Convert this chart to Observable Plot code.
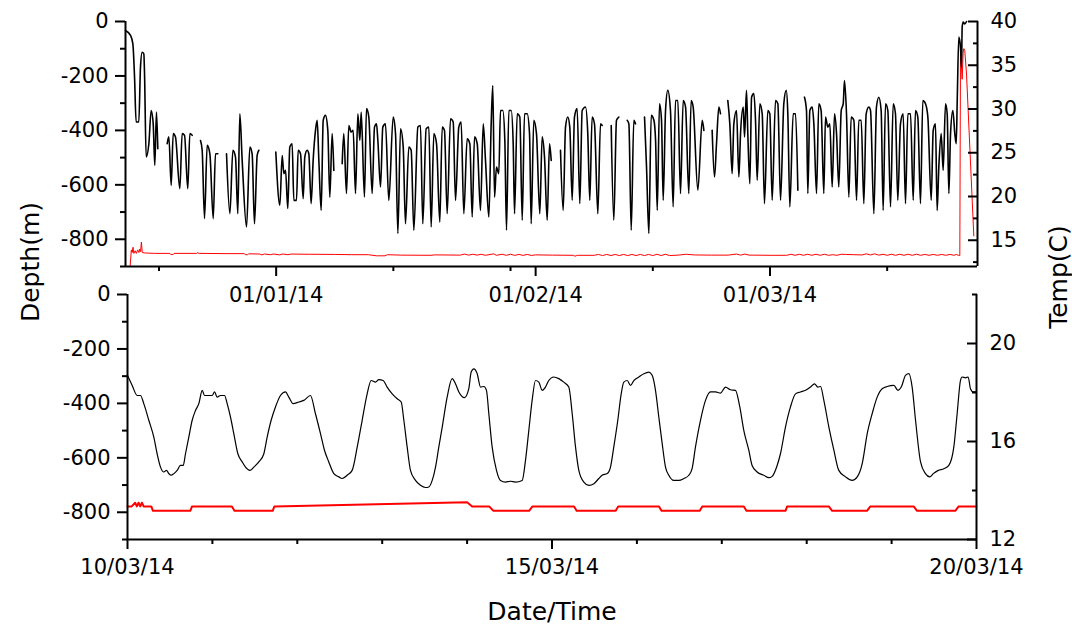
<!DOCTYPE html>
<html><head><meta charset="utf-8">
<script src="https://cdn.jsdelivr.net/npm/d3@7"></script>
<script src="https://cdn.jsdelivr.net/npm/@observablehq/plot@0.6"></script>
<style>
body{margin:0;background:#fff;}
#wrap{position:relative;width:1072px;height:624px;overflow:hidden;font-family:"DejaVu Sans",sans-serif;background:#fff;color:#000;}
#top,#bot{position:absolute;left:0;}
#top{top:0;} #bot{top:280px;}
.lab{position:absolute;font-size:25px;white-space:nowrap;line-height:1;}
.rot{transform:translate(-50%,-50%) rotate(-90deg);}
</style></head><body>
<div id="wrap">
  <div id="bot"></div>
  <div id="top"></div>
  <div class="lab rot" style="left:30px;top:262px;">Depth(m)</div>
  <div class="lab rot" style="left:1058px;top:277px;">Temp(C)</div>
  <div class="lab" style="left:552px;top:611px;transform:translate(-50%,-50%);">Date/Time</div>
</div>
<script>
// ---------- tick values / labels ----------
const depthMajor = [0, -200, -400, -600, -800];
const depthMinor = [-100, -300, -500, -700, -900];
const tempTopMajor = [15, 20, 25, 30, 35, 40];
const tempTopMinor = [12.5, 17.5, 22.5, 27.5, 32.5, 37.5];
const tempBotMajor = [12, 16, 20];
const tempBotMinor = [14, 18, 22];
const topMajorDates = ["2014-01-01", "2014-02-01", "2014-03-01"];
const topMajorLabels = ["01/01/14", "01/02/14", "01/03/14"];
const topMinorDates = ["2013-12-18", "2014-01-15", "2014-01-29", "2014-02-15", "2014-03-15"];
const botMajorDates = ["2014-03-10", "2014-03-15", "2014-03-20"];
const botMajorLabels = ["10/03/14", "15/03/14", "20/03/14"];
const botMinorDates = ["2014-03-11","2014-03-12","2014-03-13","2014-03-14","2014-03-16","2014-03-17","2014-03-18","2014-03-19"];

// ---------- top panel: days since 14/12/2013, depth (m); NaN = gap ----------
const topDepthT = [
0,0.6,0.88,1.08,1.27,1.59,1.79,1.99,2.19,2.27,2.47,2.79,3.07,3.31,3.5,3.7,3.86, 4.4,
4.98,5.18,5.46,5.7,5.97,6.49,6.77,7.05,7.44,7.69,7.97, 8.5,
8.96,9.16,9.44,9.76,10.08,10.48,10.75,11.03, 11.5,
12.07,12.47,12.83,13.14,13.42,13.66,13.94,14.46,14.86,15.13,15.41,15.73,15.93, 17,
17.96,18.44,18.72,18.92,19.12,19.39,19.63,19.91,20.11,20.43,20.63,20.91,21.23,21.42,21.7,21.9,22.18,22.42,22.7,22.9,23.1,23.38,23.62,23.89,24.17,24.41,24.69,24.89, 25.4,
25.89,26.08,26.4,26.68,26.96,27.2,27.48,27.76,28.0,28.16,28.55,28.79,29.07,29.47,29.75,29.99,30.15,30.47,30.74,31.06,31.46,31.98,32.26,32.54,32.86,33.18,33.45,33.85,34.13,34.45,34.93,35.24,35.52,35.92,36.24,36.52,36.84,37.16,37.55,37.84,38.11,38.43,38.83,39.15,39.43,39.82,40.1,40.42,40.82,41.14,41.42,41.7,42.02,42.41,42.74,43.01,43.41,43.69,43.88,44.09,44.32,44.6,44.8,45.08,45.32,45.52,45.8,46.08,46.32,46.48,46.8,47.11,47.4,47.67,47.99,48.27,48.47,48.78,49.1,49.5,49.78,50.06,50.38,50.66,50.86, 51.4,
51.97,52.29,52.57,52.84,53.08,53.37,53.64,53.96,54.28,54.56,54.96,55.23,55.47,55.75,56.03,56.43,56.75,56.95, 57.5,
58.03,58.34,58.66,58.94, 59.4,
59.94,60.14,60.42,60.73,60.93, 61.5,
62.01,62.25,62.53,62.81,63.13,63.33,63.53,63.8,64.04,64.24,64.52,64.79,65.11,65.43,65.71,65.99,66.31,66.63,66.91,67.3,67.58,67.82,68.38,68.9,69.1, 69.6,
70.09,70.37,70.61,70.89,71.09, 71.5,
71.96,72.2,72.48,72.68,73.0,73.28,73.48,73.8,73.96,74.19,74.35,74.59,74.8,75.07,75.27,75.47,75.79,76.07,76.34,76.74,76.98,77.26,77.66,77.94,78.26,78.65,78.94,79.13,79.37,79.77,80.05,80.33, 80.7,
81.12,81.36,81.52,81.76,82.04,82.24,82.56,82.83,83.11,83.43,83.63,83.91,84.15,84.43,84.71,84.95,85.22,85.51,85.75,85.9,86.14,86.42,86.7,87.02,87.34,87.61,87.9,88.21,88.49,88.81,89.01,89.41,89.72,90.0,90.28,90.52,90.8,91.08,91.4,91.72,91.99,92.27,92.59,92.91,93.19,93.47,93.79,94.11,94.38,94.66,94.98,95.26,95.58,95.86,96.26,96.5,96.77,96.97,97.17,97.45,97.69,97.97,98.17,98.37,98.57,98.85,99.08,99.25,99.37,99.56,99.76,99.88,99.96,100.08,100.27,100.48
];
const topDepthV = [
-33,-51,-82,-204,-369,-369,-168,-113,-119,-186,-498,-449,-327,-376,-528,-333,-467, NaN,
-449,-424,-602,-412,-424,-614,-412,-418,-614,-412,-418, NaN,
-437,-473,-724,-455,-486,-724,-486,-486, NaN,
-486,-706,-473,-498,-706,-339,-510,-755,-461,-486,-743,-492,-473, NaN,
-480,-675,-492,-559,-547,-687,-461,-449,-657,-657,-473,-486,-651,-498,-473,-486,-669,-510,-400,-363,-510,-694,-363,-345,-400,-645,-412,-547, NaN,
-522,-412,-632,-382,-406,-400,-632,-339,-437,-333,-645,-320,-351,-632,-388,-376,-437,-608,-388,-376,-657,-351,-412,-779,-394,-461,-743,-461,-473,-767,-388,-382,-743,-394,-388,-755,-412,-449,-737,-388,-400,-706,-357,-369,-657,-388,-369,-706,-431,-449,-718,-424,-449,-694,-376,-510,-718,-376,-235,-645,-535,-559,-327,-327,-437,-767,-327,-327,-449,-706,-339,-351,-730,-339,-339,-412,-743,-363,-412,-706,-424,-498,-730,-449,-510, NaN,
-473,-694,-388,-351,-388,-657,-351,-320,-669,-327,-314,-412,-657,-351,-376,-706,-376,-382, NaN,
-382,-730,-363,-351, NaN,
-363,-376,-767,-363,-376, NaN,
-351,-535,-779,-345,-363,-437,-694,-302,-363,-657,-327,-253,-327,-681,-290,-290,-632,-290,-314,-632,-290,-314,-620,-363,-400, NaN,
-400,-571,-449,-314,-339, NaN,
-290,-376,-559,-376,-327,-571,-412,-314,-424,-253,-412,-596,-278,-265,-363,-583,-302,-339,-669,-327,-339,-657,-290,-302,-657,-302,-253,-339,-681,-339,-339,-620, NaN,
-278,-327,-632,-327,-314,-376,-632,-302,-327,-632,-351,-388,-376,-608,-339,-412,-608,-327,-302,-217,-339,-645,-351,-363,-657,-363,-363,-669,-339,-314,-327,-706,-314,-278,-327,-694,-302,-327,-681,-302,-339,-657,-376,-339,-669,-339,-339,-657,-327,-351,-669,-290,-302,-351,-657,-400,-376,-694,-535,-412,-547,-302,-339,-632,-412,-327,-412,-449,-290,-57,-94,-168,-21,-2,-9,0
];
const topTempT = [0,0.55,0.7,0.8,0.9,1.0,1.15,1.3,1.45,1.6,1.7,1.8,1.9,2.0,2.3,3.5,5.3,5.4,5.7,5.8,8.5,8.6,8.8,12,14.2,14.3,14.6,14.7,16,16.3,16.6,17.3,17.7,18.4,18.8,19.4,19.8,22,25,27,29,30,31,31.3,33,36.5,37,40,40.5,41,41.5,42,42.5,43,44,44.3,45,45.5,46,46.5,47,47.5,48,48.5,49,51,53.5,53.7,54,56,56.5,57,57.5,58,58.5,59,59.5,60,60.5,61,61.5,62,62.5,63,63.5,64,64.5,65,66,67,68,70,72,73,73.5,74,74.5,75,77,79,79.5,80,80.5,81,81.5,82,82.5,83,83.5,84,84.5,85,85.5,86,87,88,88.5,89,89.5,90,90.5,91,91.5,92,92.5,93,93.5,94,94.5,95,95.5,96,96.5,97,97.5,98,98.5,99,99.25,99.49,99.68,99.76,99.96,100.08,100.16,100.27,100.48,101.35];
const topTempV = [12,12,13.9,13.6,14.2,13.5,13.8,13.5,13.9,13.6,14.0,13.7,14.8,13.6,13.55,13.5,13.5,13.38,13.38,13.5,13.5,13.58,13.5,13.47,13.47,13.35,13.35,13.45,13.43,13.33,13.43,13.35,13.43,13.33,13.43,13.35,13.42,13.4,13.38,13.35,13.35,13.22,13.22,13.35,13.3,13.28,13.33,13.3,13.42,13.3,13.4,13.3,13.4,13.28,13.45,13.28,13.4,13.28,13.4,13.27,13.38,13.27,13.38,13.26,13.33,13.3,13.28,13.18,13.28,13.28,13.38,13.25,13.38,13.25,13.38,13.25,13.38,13.25,13.38,13.25,13.38,13.25,13.38,13.25,13.4,13.25,13.4,13.25,13.3,13.4,13.32,13.3,13.3,13.42,13.3,13.42,13.3,13.3,13.28,13.28,13.4,13.28,13.4,13.28,13.4,13.28,13.4,13.28,13.4,13.28,13.35,13.28,13.4,13.38,13.35,13.32,13.45,13.32,13.45,13.3,13.4,13.28,13.4,13.28,13.4,13.28,13.4,13.28,13.4,13.28,13.38,13.28,13.38,13.28,13.38,13.28,13.38,13.28,13.38,13.28,13.26,36.7,33.4,36.5,36.9,36.7,34.0,15.5,15.7,15.2];

// ---------- bottom panel: days since 10/03/2014 ----------
const botDepthT = [0,0.055,0.114,0.153,0.192,0.251,0.31,0.349,0.389,0.428,0.459,0.487,0.514,0.546,0.585,0.624,0.656,0.683,0.722,0.762,0.801,0.84,0.88,0.907,0.958,0.997,1.025,1.056,1.095,1.143,1.174,1.213,1.252,1.3,1.351,1.39,1.441,1.488,1.547,1.606,1.645,1.692,1.743,1.802,1.861,1.9,1.952,2.018,2.077,2.155,2.214,2.273,2.32,2.371,2.43,2.489,2.528,2.587,2.646,2.706,2.764,2.823,2.87,2.921,2.96,3.011,3.058,3.118,3.177,3.224,3.255,3.294,3.333,3.392,3.451,3.51,3.549,3.589,3.628,3.667,3.707,3.765,3.824,3.863,3.903,3.969,4.02,4.048,4.079,4.119,4.158,4.197,4.228,4.256,4.295,4.346,4.393,4.452,4.511,4.57,4.649,4.688,4.727,4.766,4.806,4.845,4.884,4.923,4.962,5.021,5.08,5.139,5.198,5.238,5.277,5.316,5.375,5.434,5.493,5.552,5.591,5.65,5.689,5.728,5.775,5.815,5.846,5.886,5.925,5.964,6.023,6.082,6.141,6.18,6.219,6.258,6.298,6.337,6.376,6.435,6.494,6.553,6.612,6.65,6.69,6.749,6.808,6.867,6.926,6.985,7.044,7.102,7.161,7.212,7.259,7.318,7.357,7.416,7.495,7.554,7.593,7.652,7.691,7.75,7.809,7.868,7.927,7.986,8.045,8.092,8.131,8.163,8.202,8.261,8.32,8.378,8.457,8.536,8.595,8.654,8.713,8.771,8.83,8.889,8.948,9.027,9.074,9.114,9.164,9.203,9.242,9.282,9.341,9.399,9.45,9.491,9.55,9.615,9.674,9.733,9.772,9.811,9.831,9.87,9.902,9.929,9.961,10.0];
const botDepthV = [-297,-334,-371,-371,-401,-462,-524,-585,-634,-652,-646,-658,-664,-658,-646,-628,-628,-585,-524,-462,-426,-401,-352,-371,-371,-371,-358,-377,-371,-371,-401,-450,-511,-585,-615,-634,-646,-634,-615,-585,-524,-462,-413,-371,-358,-377,-401,-395,-389,-371,-438,-511,-572,-615,-658,-670,-676,-664,-646,-560,-462,-365,-316,-322,-313,-316,-340,-365,-383,-395,-462,-560,-646,-683,-701,-709,-707,-683,-634,-560,-487,-377,-309,-328,-358,-379,-346,-285,-273,-291,-340,-338,-352,-438,-560,-646,-683,-689,-686,-689,-683,-609,-499,-389,-316,-322,-352,-340,-316,-303,-309,-322,-340,-438,-560,-646,-689,-701,-695,-676,-664,-658,-634,-560,-462,-365,-322,-316,-334,-316,-303,-291,-285,-297,-352,-450,-548,-634,-664,-683,-683,-676,-664,-640,-560,-462,-389,-358,-358,-362,-340,-350,-352,-413,-499,-572,-628,-652,-664,-673,-668,-628,-585,-487,-413,-365,-358,-352,-340,-328,-340,-338,-389,-487,-572,-646,-670,-683,-670,-621,-511,-438,-377,-346,-338,-334,-352,-340,-297,-291,-340,-462,-615,-658,-670,-658,-646,-640,-628,-560,-438,-316,-303,-306,-303,-346,-358,-358];
const botTempT = [0,0.05,0.09,0.11,0.13,0.15,0.17,0.19,0.28,0.30,0.74,0.76,1.23,1.26,1.71,1.73,4.0,4.06,4.26,4.31,4.73,4.77,5.26,5.29,5.75,5.78,6.26,6.29,6.74,6.77,7.26,7.29,7.75,7.77,8.26,8.3,8.71,8.75,9.26,9.3,9.75,9.79,10.0];
const botTempV = [13.35,13.35,13.5,13.35,13.5,13.35,13.5,13.35,13.35,13.17,13.17,13.35,13.35,13.17,13.17,13.35,13.52,13.35,13.35,13.17,13.17,13.35,13.35,13.17,13.17,13.35,13.35,13.17,13.17,13.35,13.35,13.17,13.17,13.35,13.35,13.17,13.17,13.35,13.35,13.17,13.17,13.35,13.35];

// ---------- build ----------
const DAY = 864e5;
const topStart = Date.UTC(2013, 11, 14), topEnd = Date.UTC(2014, 2, 25, 19);
const botStart = Date.UTC(2014, 2, 10), botEnd = Date.UTC(2014, 2, 20);
const dt = s => new Date(s + "T00:00:00Z");
const topT2D = t => -900 + (t - 12) * 900 / 28;
const topD2T = d => Math.round(((d + 900) * 28 / 900 + 12) * 10) / 10;
const botT2D = t => -900 + (t - 12) * 90;
const botD2T = d => Math.round((d + 900) / 90 + 12);

const topDepth = topDepthT.map((t, i) => ({date: new Date(topStart + t * DAY), v: topDepthV[i]}));
const topTemp = topTempT.map((t, i) => ({date: new Date(topStart + t * DAY), v: topT2D(topTempV[i])}));
const botDepth = botDepthT.map((t, i) => ({date: new Date(botStart + t * DAY), v: botDepthV[i]}));
const botTemp = botTempT.map((t, i) => ({date: new Date(botStart + t * DAY), v: botT2D(botTempV[i])}));

const fmtTop = new Map(topMajorDates.map((d, i) => [dt(d).getTime(), topMajorLabels[i]]));
const fmtBot = new Map(botMajorDates.map((d, i) => [dt(d).getTime(), botMajorLabels[i]]));
const blank = () => "";
const style = {background: "transparent", fontFamily: "DejaVu Sans, sans-serif", fontSize: "21px", color: "#000", overflow: "visible"};

function panel({start, end, height, mt, mb, ml, mr, depth, temp, d2t, t2d, tMaj, tMin, xMaj, xMin, fmt, xPad, lw, rw}) {
  return Plot.plot({
    width: 1072, height, marginLeft: ml, marginRight: mr, marginTop: mt, marginBottom: mb,
    style,
    x: {type: "utc", domain: [new Date(start), new Date(end)]},
    y: {domain: [-900, 0]},
    marks: [
      Plot.line(temp, {x: "date", y: "v", stroke: "#ff0000", strokeWidth: rw}),
      Plot.line(depth, {x: "date", y: "v", stroke: "#000", strokeWidth: lw, curve: "monotone-x"}),
      // axis lines
      Plot.ruleX([new Date(start)], {stroke: "#000", strokeWidth: 2}),
      Plot.ruleX([new Date(end)], {stroke: "#000", strokeWidth: 2}),
      Plot.ruleY([-900], {stroke: "#000", strokeWidth: 2}),
      // left depth axis
      Plot.axisY({ticks: depthMajor, tickSize: 10, tickPadding: 7, strokeWidth: 2, tickFormat: d => String(d), label: null}),
      Plot.axisY({ticks: depthMinor, tickSize: 5, strokeWidth: 2, tickFormat: blank, label: null}),
      // right temperature axis (ticks inward)
      Plot.axisY({anchor: "right", ticks: tMaj.map(t2d), tickSize: 0, tickPadding: 13, tickFormat: d => String(d2t(d)), label: null}),
      Plot.axisY({anchor: "right", ticks: tMaj.map(t2d), tickSize: 10, dx: -10, strokeWidth: 2, tickFormat: blank, label: null}),
      Plot.axisY({anchor: "right", ticks: tMin.map(t2d), tickSize: 5, dx: -5, strokeWidth: 2, tickFormat: blank, label: null}),
      // x axis
      Plot.axisX({ticks: xMaj.map(dt), tickSize: 10, tickPadding: xPad, strokeWidth: 2, tickFormat: d => fmt.get(d.getTime()), label: null}),
      Plot.axisX({ticks: xMin.map(dt), tickSize: 5, strokeWidth: 2, tickFormat: blank, label: null})
    ]
  });
}

document.getElementById("top").append(panel({
  start: topStart, end: topEnd, height: 312, mt: 21, mb: 46, ml: 125, mr: 95,
  depth: topDepth, temp: topTemp, d2t: topD2T, t2d: topT2D, tMaj: tempTopMajor, tMin: tempTopMinor,
  xMaj: topMajorDates, xMin: topMinorDates, fmt: fmtTop, xPad: 11, lw: 1.6, rw: 1
}));
document.getElementById("bot").append(panel({
  start: botStart, end: botEnd, height: 344, mt: 14, mb: 85, ml: 127, mr: 96,
  depth: botDepth, temp: botTemp, d2t: botD2T, t2d: botT2D, tMaj: tempBotMajor, tMin: tempBotMinor,
  xMaj: botMajorDates, xMin: botMinorDates, fmt: fmtBot, xPad: 10, lw: 1.2, rw: 2
}));
</script>
</body></html>
